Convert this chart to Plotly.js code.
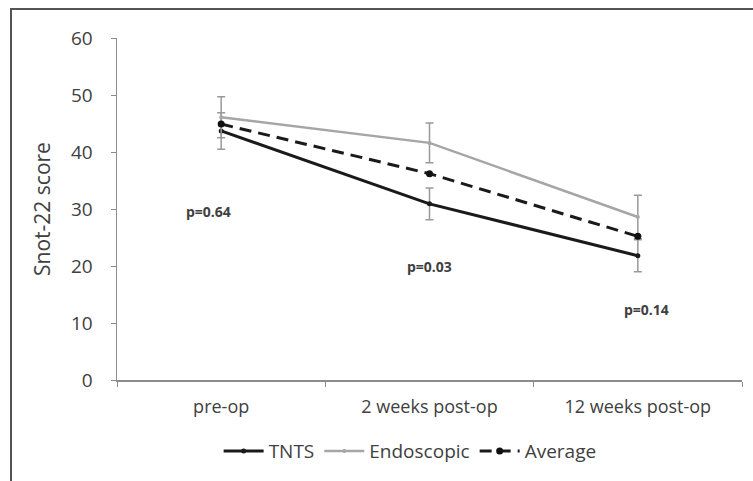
<!DOCTYPE html>
<html>
<head>
<meta charset="utf-8">
<script src="https://cdn.plot.ly/plotly-3.0.1.min.js"></script>
<style>html,body{margin:0;padding:0;background:#fff;}#chart{width:753px;height:481px;}</style>
</head>
<body>
<div id="chart"></div>
<script>
var categories = ["pre-op", "2 weeks post-op", "12 weeks post-op"];
var tntsValues = [43.7, 30.9, 21.8];
var tntsErrors = [3.2, 2.8, 2.8];
var endoValues = [46.1, 41.6, 28.6];
var endoErrors = [3.6, 3.5, 3.8];
var avgValues = [44.9, 36.2, 25.2];
var pLabels = ["p=0.64", "p=0.03", "p=0.14"];
var pX = [-0.06, 1.0, 2.04];
var pY = [29.5, 20.0, 12.3];
var yTicks = [0, 10, 20, 30, 40, 50, 60];

var errStyle = {type: "data", visible: true, color: "#999999", thickness: 1.5, width: 4};

var traces = [
  {x: categories, y: tntsValues, name: "TNTS", type: "scatter", mode: "lines+markers",
   line: {color: "#1a1a1a", width: 3}, marker: {color: "#1a1a1a", size: 5},
   error_y: Object.assign({array: tntsErrors}, errStyle)},
  {x: categories, y: endoValues, name: "Endoscopic", type: "scatter", mode: "lines+markers",
   line: {color: "#a6a6a6", width: 2.5}, marker: {color: "#a6a6a6", size: 4},
   error_y: Object.assign({array: endoErrors}, errStyle)},
  {x: categories, y: avgValues, name: "Average", type: "scatter", mode: "lines+markers",
   line: {color: "#1a1a1a", width: 3, dash: "12px,7px"}, marker: {color: "#111", size: 7}}
];

var annotations = pLabels.map(function (t, i) {
  return {x: pX[i], y: pY[i], xref: "x", yref: "y", text: "<b>" + t + "</b>", showarrow: false,
          font: {family: "Open Sans, Liberation Sans, sans-serif", size: 14, color: "#404040"}};
});

var layout = {
  width: 753, height: 481,
  margin: {l: 117, r: 11, t: 38, b: 101},
  paper_bgcolor: "#fff", plot_bgcolor: "#fff",
  font: {family: "Open Sans, Liberation Sans, sans-serif", color: "#404040"},
  showlegend: true,
  legend: {orientation: "h", x: 0.469, xanchor: "center", y: -0.208, yanchor: "middle",
           font: {size: 19, color: "#404040"}, itemwidth: 40, tracegroupgap: 0},
  xaxis: {type: "category", categoryorder: "array", categoryarray: categories,
          range: [-0.5, 2.5], showline: true, linecolor: "#8c8c8c", linewidth: 1.5,
          ticks: "outside", tickson: "boundaries", ticklen: 5, tickcolor: "#8c8c8c",
          ticklabelstandoff: 10,
          showgrid: false, zeroline: false, tickfont: {size: 18, color: "#404040"}},
  yaxis: {range: [0, 60], tickvals: yTicks, showline: true, linecolor: "#8c8c8c", linewidth: 1.5,
          ticks: "outside", ticklen: 5, tickcolor: "#8c8c8c", showgrid: false, zeroline: false,
          ticklabelstandoff: 14,
          tickfont: {size: 19, color: "#404040"},
          title: {text: "Snot-22 score", font: {size: 21, color: "#404040"}, standoff: 14}},
  annotations: annotations,
  shapes: [{type: "rect", xref: "paper", yref: "paper", x0: -0.1696, x1: 1.2, y0: -0.5, y1: 1.0848,
            line: {color: "#555", width: 2}, fillcolor: "rgba(0,0,0,0)"}]
};

Plotly.newPlot("chart", traces, layout, {displayModeBar: false, staticPlot: true});
</script>
</body>
</html>
